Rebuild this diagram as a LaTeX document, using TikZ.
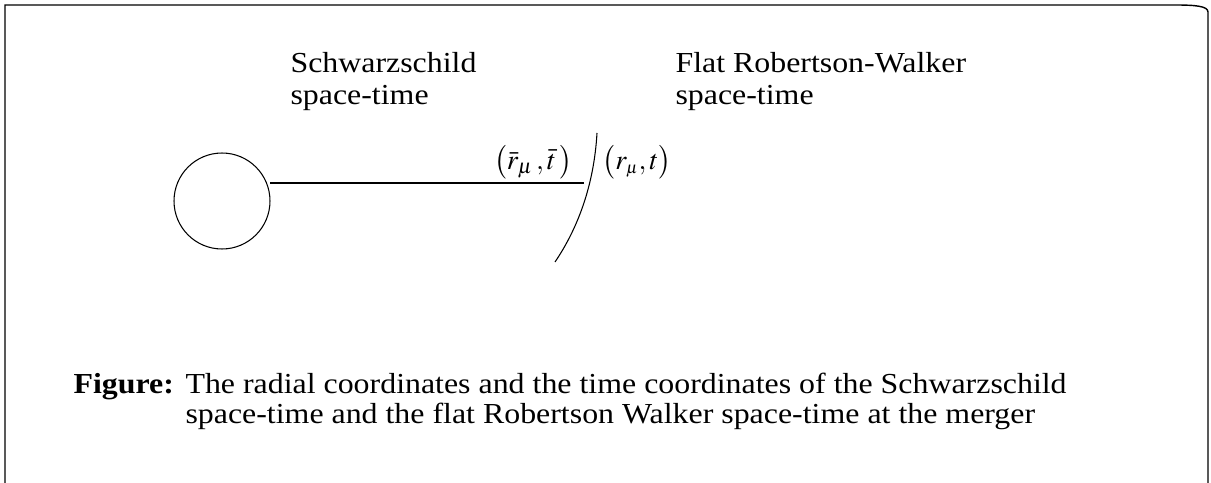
\documentclass[tikz,border=0pt]{standalone}
\usepackage{mathptmx}
\usepackage{fontspec}
\newfontfamily\widerm[FakeStretch=1.1]{Liberation Serif}
\tikzset{
  lbl/.style={anchor=base west,inner sep=0pt,font=\widerm\fontsize{16.5}{19}\selectfont},
  coordlbl/.style={inner sep=0pt,font=\fontsize{16}{18}\selectfont}
}
\begin{document}
\begin{tikzpicture}[x=0.02cm,y=-0.02cm,line width=0.6pt]
\useasboundingbox (0,0) rectangle (1211,483);
% frame
\draw[line width=0.8pt] (5,483) -- (5,5) -- (1175,5) .. controls (1195,5) and (1208,6) .. (1208,12) -- (1208,483);
% star and the line to the junction
\node[draw,circle,minimum size=1.92cm,inner sep=0pt] (star) at (222,201) {};
\coordinate (lstart) at (270,183);
\coordinate (lend) at (584,183);
\draw (lstart) -- (lend);
% junction surface
\coordinate (jlow) at (555,262);
\coordinate (jtop) at (597,133);
\draw (jlow) .. controls (578,228) and (594,185) .. (jtop);
\node[coordlbl] (inner) at (533,162) {$\bigl(\bar{r}_{\mu}\,,\bar{t}\,\bigr)$};
\node[coordlbl] (outer) at (637,162) {$\bigl(r_{\scriptscriptstyle\mu},t\bigr)$};
% regions
\node[lbl] (sch1) at (290,73) {Schwarzschild};
\node[lbl] (sch2) at (290,105) {space-time};
\node[lbl] (frw1) at (675,73) {Flat Robertson-Walker};
\node[lbl] (frw2) at (675,105) {space-time};
% caption
\node[lbl] (fig) at (73,393) {\bfseries Figure:};
\node[lbl] (cap1) at (185,393) {The radial coordinates and the time coordinates of the Schwarzschild};
\node[lbl] (cap2) at (185,423) {space-time and the flat Robertson Walker space-time at the merger};
\end{tikzpicture}
\end{document}
